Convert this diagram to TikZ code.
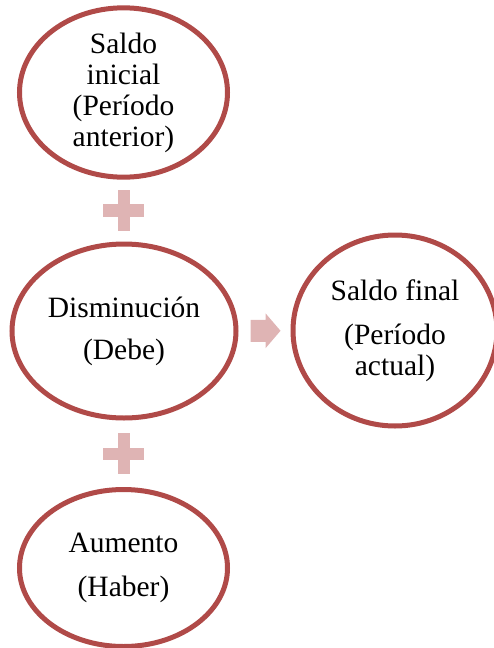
\documentclass[tikz,border=0pt]{standalone}
\usepackage{fontspec}
\setmainfont{Liberation Serif}
\usetikzlibrary{shapes.geometric,calc}
\definecolor{ringred}{RGB}{176,74,72}
\definecolor{signpink}{RGB}{223,180,180}
\begin{document}
\begin{tikzpicture}[x=1pt,y=-1pt,
  ring/.style={ellipse,draw=ringred,line width=5pt,fill=white,inner sep=0pt,
    align=center,font=\fontsize{29.5}{31}\selectfont},
  signfill/.style={fill=signpink}]
\useasboundingbox (0,0) rectangle (493,648);
\node[ring,minimum width=208pt,minimum height=157pt] (top) at (123.5,92.5)
  {Saldo\\inicial\\(Período\\anterior)};
\node[ring,minimum width=224pt,minimum height=174pt] (mid) at (124,331)
  {Disminución\\[11pt](Debe)};
\node[ring,minimum width=204pt,minimum height=191pt] (fin) at (395,330.5)
  {Saldo final\\[13pt](Período\\actual)};
\node[ring,minimum width=208pt,minimum height=157pt] (bot) at (123.5,568)
  {Aumento\\[13pt](Haber)};
\coordinate (p1) at ($(top.south)!0.5!(mid.north)$);
\coordinate (p2) at ($(mid.south)!0.5!(bot.north)$);
\coordinate (a1) at ($(mid.east)!0.5!(fin.west)$);
\foreach \p in {p1,p2}{
  \fill[signfill,shift={(\p)}] (-20.5,-6.25) rectangle (20.5,6.25);
  \fill[signfill,shift={(\p)}] (-6.25,-20.5) rectangle (6.25,20.5);
}
\fill[signfill,shift={(a1)}] (-14,-11) -- (1,-11) -- (1,-17.5) -- (16,0) -- (1,17.5) -- (1,11) -- (-14,11) -- cycle;
\end{tikzpicture}
\end{document}
